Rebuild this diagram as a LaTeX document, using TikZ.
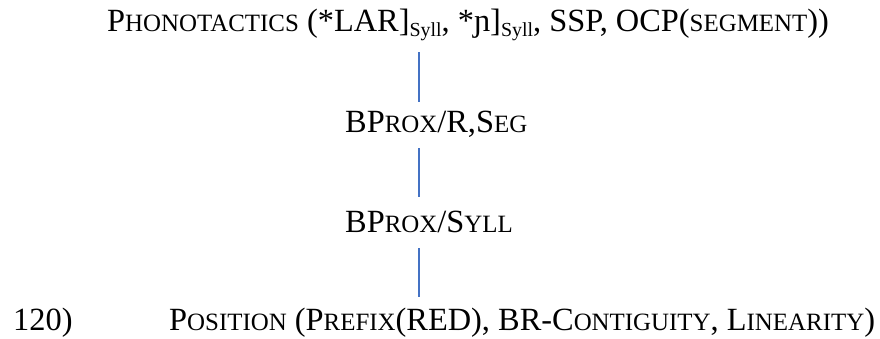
\documentclass[tikz,border=0pt]{standalone}
\usepackage{fontspec}
\setmainfont{Liberation Serif}
\newcommand{\bigf}{\fontsize{32.5}{34}\selectfont}
\newcommand{\smc}[1]{{\fontsize{25}{26}\selectfont #1}}
\newcommand{\syl}{\raisebox{-4.5bp}{\fontsize{20}{21}\selectfont Syll}}
\definecolor{linkblue}{HTML}{4472C4}
\tikzset{
  lbl/.style={anchor=base west, inner sep=0pt, font=\bigf},
  link/.style={draw=linkblue, line width=1.5bp}
}
\begin{document}
\begin{tikzpicture}[x=1bp,y=-1bp]
\useasboundingbox[fill=white] (0,0) rectangle (880,338);
\node[lbl] (phon) at (107,31.5) {P\smc{HONOTACTICS} (*LAR]\syl, *ɲ]\syl, SSP, OCP(\smc{SEGMENT}))};
\node[lbl] (bseg) at (345,132) {BP\smc{ROX}/R,S\smc{EG}};
\node[lbl] (bsyl) at (345,232) {BP\smc{ROX}/S\smc{YLL}};
\node[lbl] (num) at (13,330) {120)};
\node[lbl] (pos) at (169,330) {P\smc{OSITION} (P\smc{REFIX}(RED), BR-C\smc{ONTIGUITY}, L\smc{INEARITY})};
\coordinate (a1) at (419,52);
\coordinate (a2) at (419,102);
\coordinate (b1) at (419,148);
\coordinate (b2) at (419,197);
\coordinate (c1) at (419,248);
\coordinate (c2) at (419,297);
\draw[link] (a1) -- (a2);
\draw[link] (b1) -- (b2);
\draw[link] (c1) -- (c2);
\end{tikzpicture}
\end{document}
